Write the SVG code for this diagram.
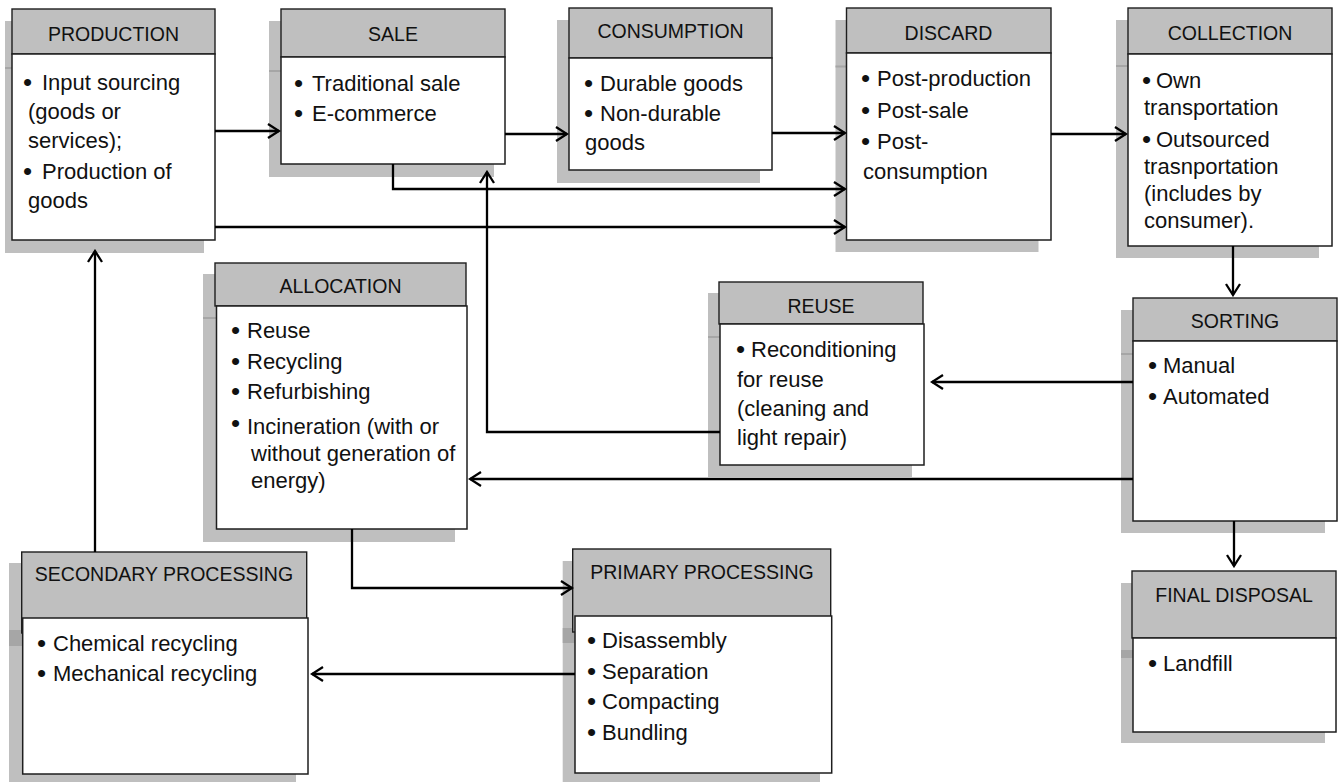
<svg xmlns="http://www.w3.org/2000/svg" width="1341" height="782" viewBox="0 0 1341 782">
<style>
.sh{fill:#bfbfbf}
.shd{fill:#a6a6a6}
.hd{fill:#bfbfbf;stroke:#1e1e1e;stroke-width:1.4}
.bd{fill:#ffffff;stroke:#1e1e1e;stroke-width:1.5}
.ht{font-family:"Liberation Sans",Arial,sans-serif;font-size:19.5px;fill:#111;text-anchor:middle}
.bt{font-family:"Liberation Sans",Arial,sans-serif;font-size:22px;fill:#111}
.b{font-size:26px}
.cn{fill:none;stroke:#000;stroke-width:2.3;marker-end:url(#ah)}
</style>
<defs>
<marker id="ah" markerUnits="userSpaceOnUse" markerWidth="16" markerHeight="18" viewBox="-14 -9 16 18" refX="0" refY="0" orient="auto">
<path d="M-11,-7 L0,0 L-11,7" fill="none" stroke="#000" stroke-width="2.3"/>
</marker>
</defs>
<rect width="1341" height="782" fill="#fff"/>

<g id="production">
<rect class="sh" x="5" y="21" width="199" height="232"/>
<rect class="shd" x="5" y="67" width="7" height="2"/>
<rect class="hd" x="12" y="9" width="203" height="45"/>
<rect class="bd" x="12" y="54" width="203" height="186"/>
<text class="ht" x="113.5" y="41">PRODUCTION</text>
<text class="bt"><tspan class="b" x="23" y="90.5">•</tspan><tspan x="42" y="90">Input sourcing</tspan><tspan x="28" y="119">(goods or</tspan><tspan x="28" y="148">services);</tspan><tspan class="b" x="23" y="179.5">•</tspan><tspan x="42" y="179">Production of</tspan><tspan x="28" y="208">goods</tspan></text>
</g>

<g id="sale">
<rect class="sh" x="269" y="21" width="225" height="156"/>
<rect class="shd" x="269" y="70" width="12" height="2"/>
<rect class="hd" x="281" y="9" width="224" height="48"/>
<rect class="bd" x="281" y="57" width="224" height="107"/>
<text class="ht" x="393" y="41">SALE</text>
<text class="bt"><tspan class="b" x="294" y="91.5">•</tspan><tspan x="312" y="91">Traditional sale</tspan><tspan class="b" x="294" y="121.5">•</tspan><tspan x="312" y="121">E-commerce</tspan></text>
</g>

<g id="consumption">
<rect class="sh" x="557" y="20" width="203" height="163"/>
<rect class="hd" x="569" y="8" width="203" height="50"/>
<rect class="bd" x="569" y="58" width="203" height="112"/>
<text class="ht" x="670.5" y="38">CONSUMPTION</text>
<text class="bt"><tspan class="b" x="584" y="91.5">•</tspan><tspan x="600" y="91">Durable goods</tspan><tspan class="b" x="584" y="121.5">•</tspan><tspan x="600" y="121">Non-durable</tspan><tspan x="585" y="150">goods</tspan></text>
</g>

<g id="discard">
<rect class="sh" x="835.5" y="20" width="203" height="232"/>
<rect class="shd" x="835.5" y="65.5" width="11" height="2"/>
<rect class="hd" x="846.5" y="8" width="204.5" height="45"/>
<rect class="bd" x="846.5" y="53" width="204.5" height="187"/>
<text class="ht" x="948.5" y="40">DISCARD</text>
<text class="bt"><tspan class="b" x="861" y="86.5">•</tspan><tspan x="877" y="86">Post-production</tspan><tspan class="b" x="861" y="118.5">•</tspan><tspan x="877" y="118">Post-sale</tspan><tspan class="b" x="861" y="149.5">•</tspan><tspan x="877" y="149">Post-</tspan><tspan x="863" y="179">consumption</tspan></text>
</g>

<g id="collection">
<rect class="sh" x="1116" y="20" width="203" height="238"/>
<rect class="shd" x="1116" y="65" width="12" height="2"/>
<rect class="hd" x="1128" y="8" width="204" height="46"/>
<rect class="bd" x="1128" y="54" width="204" height="192"/>
<text class="ht" x="1230" y="40">COLLECTION</text>
<text class="bt"><tspan class="b" x="1142" y="88.5">•</tspan><tspan x="1156" y="88">Own</tspan><tspan x="1144" y="115">transportation</tspan><tspan class="b" x="1142" y="147.5">•</tspan><tspan x="1156" y="147">Outsourced</tspan><tspan x="1144" y="174">trasnportation</tspan><tspan x="1144" y="201">(includes by</tspan><tspan x="1144" y="228">consumer).</tspan></text>
</g>

<g id="sorting">
<rect class="sh" x="1121" y="310" width="204" height="223"/>
<rect class="shd" x="1121" y="353" width="12" height="2"/>
<rect class="hd" x="1133" y="298" width="204" height="43"/>
<rect class="bd" x="1133" y="341" width="204" height="180"/>
<text class="ht" x="1235" y="328">SORTING</text>
<text class="bt"><tspan class="b" x="1148" y="373.5">•</tspan><tspan x="1163" y="373">Manual</tspan><tspan class="b" x="1148" y="404.5">•</tspan><tspan x="1163" y="404">Automated</tspan></text>
</g>

<g id="final-disposal">
<rect class="sh" x="1121" y="583" width="204" height="160"/>
<rect class="shd" x="1121" y="650" width="12" height="8"/>
<rect class="hd" x="1132" y="571" width="204" height="67"/>
<rect class="bd" x="1133" y="638" width="203" height="94"/>
<text class="ht" x="1234" y="602">FINAL DISPOSAL</text>
<text class="bt"><tspan class="b" x="1148" y="671.5">•</tspan><tspan x="1163" y="671">Landfill</tspan></text>
</g>

<g id="allocation">
<rect class="sh" x="203" y="274" width="252" height="268"/>
<rect class="shd" x="203" y="317" width="13" height="2"/>
<rect class="hd" x="215" y="263" width="251" height="43"/>
<rect class="bd" x="216.5" y="306" width="250.5" height="223"/>
<text class="ht" x="340.5" y="293">ALLOCATION</text>
<text class="bt"><tspan class="b" x="231" y="338.5">•</tspan><tspan x="247" y="338">Reuse</tspan><tspan class="b" x="231" y="369.5">•</tspan><tspan x="247" y="369">Recycling</tspan><tspan class="b" x="231" y="399.5">•</tspan><tspan x="247" y="399">Refurbishing</tspan><tspan class="b" x="231" y="432">•</tspan><tspan x="247" y="434">Incineration (with or</tspan><tspan x="251" y="461">without generation of</tspan><tspan x="251" y="488">energy)</tspan></text>
</g>

<g id="reuse">
<rect class="sh" x="708" y="293" width="204" height="184"/>
<rect class="shd" x="708" y="336" width="12" height="2"/>
<rect class="hd" x="719" y="282" width="204" height="42"/>
<rect class="bd" x="720" y="324" width="204" height="141"/>
<text class="ht" x="821" y="313">REUSE</text>
<text class="bt"><tspan class="b" x="736" y="357.5">•</tspan><tspan x="751" y="357">Reconditioning</tspan><tspan x="737" y="387">for reuse</tspan><tspan x="737" y="416">(cleaning and</tspan><tspan x="737" y="445">light repair)</tspan></text>
</g>

<g id="secondary-processing">
<rect class="sh" x="9" y="563" width="287" height="219"/>
<rect class="shd" x="9" y="630" width="13" height="16"/>
<rect class="hd" x="21.7" y="552" width="285" height="81"/>
<rect class="bd" x="22.7" y="618" width="285.3" height="156"/>
<text class="ht" x="164" y="581">SECONDARY PROCESSING</text>
<text class="bt"><tspan class="b" x="37" y="651.5">•</tspan><tspan x="53" y="651">Chemical recycling</tspan><tspan class="b" x="37" y="681.5">•</tspan><tspan x="53" y="681">Mechanical recycling</tspan></text>
</g>

<g id="primary-processing">
<rect class="sh" x="562.7" y="561" width="257.3" height="221"/>
<rect class="shd" x="562.7" y="628" width="12" height="15"/>
<rect class="hd" x="572.7" y="549" width="258" height="83"/>
<rect class="bd" x="575" y="616" width="256.7" height="157"/>
<text class="ht" x="702" y="579">PRIMARY PROCESSING</text>
<text class="bt"><tspan class="b" x="587" y="648.5">•</tspan><tspan x="602" y="648">Disassembly</tspan><tspan class="b" x="587" y="679.5">•</tspan><tspan x="602" y="679">Separation</tspan><tspan class="b" x="587" y="709.5">•</tspan><tspan x="602" y="709">Compacting</tspan><tspan class="b" x="587" y="740.5">•</tspan><tspan x="602" y="740">Bundling</tspan></text>
</g>

<g id="connectors">
<path class="cn" d="M215,131 H279"/>
<path class="cn" d="M505,134 H567"/>
<path class="cn" d="M772,133 H845"/>
<path class="cn" d="M1051,134 H1126"/>
<path class="cn" d="M393,164 V189 H845"/>
<path class="cn" d="M215,227 H845"/>
<path class="cn" d="M1233,246 V295"/>
<path class="cn" d="M1133,382 H932"/>
<path class="cn" d="M1133,479 H470"/>
<path class="cn" d="M720,432 H487 V172"/>
<path class="cn" d="M352,529 V588 H572"/>
<path class="cn" d="M575,674 H312"/>
<path class="cn" d="M95,552 V251"/>
<path class="cn" d="M1234,521 V566"/>
</g>
</svg>
